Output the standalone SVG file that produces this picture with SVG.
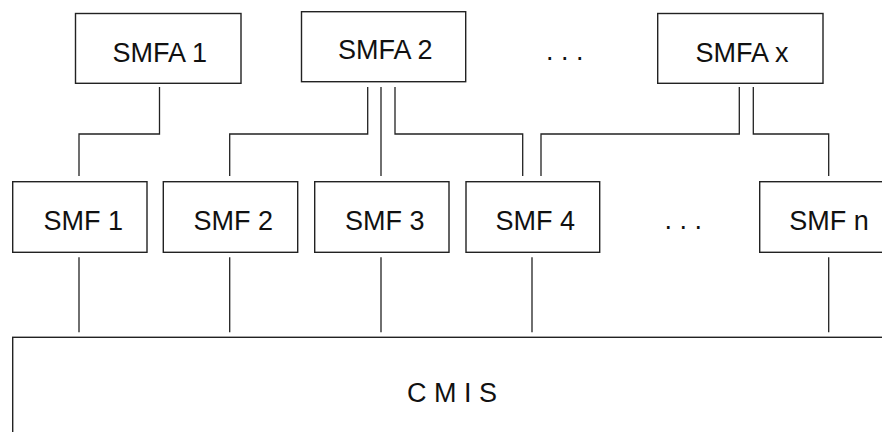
<svg xmlns="http://www.w3.org/2000/svg" width="882" height="432" viewBox="0 0 882 432">
<style>
.box{fill:#fff;stroke:#222;stroke-width:1.4}
.lbl{font-family:"Liberation Sans",Arial,sans-serif;font-size:27px;fill:#111}
.conn{fill:none;stroke:#222;stroke-width:1.3}
</style>
<rect width="882" height="432" fill="#fff"/>
<g id="connectors">
<polyline class="conn" points="159.5,87 159.5,134 79,134 79,176"/>
<polyline class="conn" points="367.7,87 367.7,134 229.7,134 229.7,176"/>
<polyline class="conn" points="381,87 381,176"/>
<polyline class="conn" points="395,87 395,134 522.7,134 522.7,176"/>
<polyline class="conn" points="739.3,87 739.3,134 541,134 541,176"/>
<polyline class="conn" points="753.3,87 753.3,134 828.7,134 828.7,176"/>
<line class="conn" x1="79" y1="257.3" x2="79" y2="332.3"/>
<line class="conn" x1="229.7" y1="257.3" x2="229.7" y2="332.3"/>
<line class="conn" x1="381" y1="257.3" x2="381" y2="332.3"/>
<line class="conn" x1="532" y1="257.3" x2="532" y2="332.3"/>
<line class="conn" x1="828.7" y1="257.3" x2="828.7" y2="332.3"/>
</g>
<g id="smfa1"><rect class="box" x="75.5" y="13.5" width="165.5" height="69.8"/><text class="lbl" x="112.5" y="62">SMFA 1</text></g>
<g id="smfa2"><rect class="box" x="301.5" y="11.7" width="164.2" height="70"/><text class="lbl" x="338" y="59.3">SMFA 2</text></g>
<g id="dots-top"><text class="lbl" x="546" y="60">. . .</text></g>
<g id="smfax"><rect class="box" x="657.7" y="13.5" width="165.3" height="69.8"/><text class="lbl" x="695.5" y="61.7">SMFA x</text></g>
<g id="smf1"><rect class="box" x="12.7" y="181.7" width="134.3" height="70.6"/><text class="lbl" x="43.5" y="230">SMF 1</text></g>
<g id="smf2"><rect class="box" x="163.3" y="181.7" width="134.4" height="70.6"/><text class="lbl" x="193.5" y="230">SMF 2</text></g>
<g id="smf3"><rect class="box" x="314.7" y="181.7" width="134.3" height="70.6"/><text class="lbl" x="345" y="230">SMF 3</text></g>
<g id="smf4"><rect class="box" x="466" y="181.7" width="133.7" height="70.6"/><text class="lbl" x="495.5" y="230">SMF 4</text></g>
<g id="dots-mid"><text class="lbl" x="664.5" y="229">. . .</text></g>
<g id="smfn"><rect class="box" x="759.7" y="181.7" width="134.3" height="70.6"/><text class="lbl" x="789.3" y="230">SMF n</text></g>
<g id="cmis"><rect class="box" x="12.7" y="337.3" width="900" height="200"/><text class="lbl" x="407" y="401.7">C M I S</text></g>
</svg>
